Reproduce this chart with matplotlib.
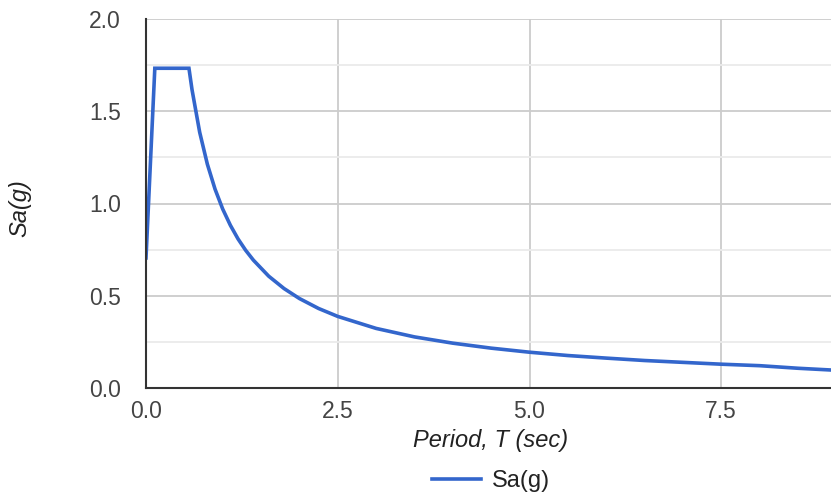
import matplotlib
matplotlib.use("Agg")
import matplotlib.pyplot as plt
from matplotlib.ticker import MultipleLocator, FormatStrFormatter

period = [0.0, 0.115, 0.56, 0.6, 0.7, 0.8, 0.9, 1.0, 1.1, 1.2, 1.3, 1.4, 1.6, 1.8,
          2.0, 2.25, 2.5, 3.0, 3.5, 4.0, 4.5, 5.0, 5.5, 6.0, 6.5, 7.0, 7.5, 8.0,
          8.5, 9.0]
sa = [0.705, 1.733, 1.733, 1.617, 1.386, 1.213, 1.078, 0.970, 0.882, 0.808, 0.746,
      0.693, 0.606, 0.539, 0.485, 0.431, 0.388, 0.323, 0.277, 0.243, 0.216, 0.194,
      0.176, 0.162, 0.149, 0.139, 0.129, 0.121, 0.107, 0.096]
series_name = "Sa(g)"
x_title = "Period, T (sec)"
y_title = "Sa(g)"

plt.rcParams['font.family'] = ['Liberation Sans', 'DejaVu Sans']

fig = plt.figure(figsize=(8.31, 4.97), dpi=100)
W, H = 831, 497
left, right, top, bottom = 146, 831, 19, 388
ax = fig.add_axes([left / W, 1 - bottom / H, (right - left) / W, (bottom - top) / H])

ax.plot(period, sa, color='#3366CC', lw=2.6, solid_joinstyle='miter', zorder=3,
        label=series_name, clip_on=True)

ax.set_xlim(0, (right - left) / 76.7)
ax.set_ylim(0, 2.0)
ax.xaxis.set_major_locator(MultipleLocator(2.5))
ax.yaxis.set_major_locator(MultipleLocator(0.5))
ax.yaxis.set_minor_locator(MultipleLocator(0.25))
ax.xaxis.set_major_formatter(FormatStrFormatter('%.1f'))
ax.yaxis.set_major_formatter(FormatStrFormatter('%.1f'))

ax.grid(which='major', color='#cccccc', lw=1.3, zorder=0)
ax.grid(which='minor', axis='y', color='#ebebeb', lw=1.3, zorder=0)
ax.set_axisbelow(True)

for s in ['top', 'right']:
    ax.spines[s].set_visible(False)
for s in ['left', 'bottom']:
    ax.spines[s].set_color('#333333')
    ax.spines[s].set_linewidth(1.5)
    ax.spines[s].set_zorder(4)

ax.tick_params(which='both', length=0)
ax.tick_params(axis='x', pad=9, labelsize=16.5, labelcolor='#444444')
ax.tick_params(axis='y', pad=18, labelsize=16.5, labelcolor='#444444')

fig.text(491 / W, 1 - 441 / H, x_title, ha='center', va='center',
         fontsize=17, style='italic', color='#222222')
fig.text(20 / W, 1 - 208 / H, y_title, ha='center', va='center', rotation=90,
         fontsize=17, style='italic', color='#222222')

leg = fig.legend(loc='center', bbox_to_anchor=(491 / W, 1 - 481 / H), frameon=False,
                 fontsize=17, handlelength=2.05, handletextpad=0.45)
for t in leg.get_texts():
    t.set_color('#222222')

fig.savefig('out.png', dpi=100)
